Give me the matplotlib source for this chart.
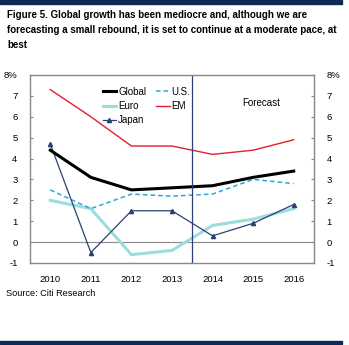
import matplotlib
matplotlib.use("Agg")
import matplotlib.pyplot as plt

years = [2010, 2011, 2012, 2013, 2014, 2015, 2016]
glob = [4.4, 3.1, 2.5, 2.6, 2.7, 3.1, 3.4]
us = [2.5, 1.6, 2.3, 2.2, 2.3, 3.0, 2.8]
euro = [2.0, 1.6, -0.6, -0.4, 0.8, 1.1, 1.6]
em = [7.3, 6.0, 4.6, 4.6, 4.2, 4.4, 4.9]
japan = [4.7, -0.5, 1.5, 1.5, 0.3, 0.9, 1.8]
yticks = [-1, 0, 1, 2, 3, 4, 5, 6, 7, 8]
ylabels = ["-1", "0", "1", "2", "3", "4", "5", "6", "7", "8%"]
forecast_start = 2013.5

plt.rcParams.update({"font.family": ["Liberation Sans", "DejaVu Sans"], "font.size": 6.8})
W, H = 349, 345
fig = plt.figure(figsize=(W / 100, H / 100), dpi=100)

# dark bars top / bottom
fig.patches.append(plt.Rectangle((0, 1 - 4 / H), 342 / W, 4 / H, transform=fig.transFigure,
                                 color="#0c2a55", zorder=0))
fig.patches.append(plt.Rectangle((0, 1 / H), 342 / W, 3 / H, transform=fig.transFigure,
                                 color="#0c2a55", zorder=0))

fig.text(7 / W, 1 - 10 / H,
         "Figure 5. Global growth has been mediocre and, although we are\n"
         "forecasting a small rebound, it is set to continue at a moderate pace, at\n"
         "best", ha="left", va="top", fontsize=7.0, fontweight="bold", linespacing=1.65)

ax = fig.add_axes([30 / W, 1 - 263 / H, 284 / W, 188 / H])
ax.plot(years, em, color="#e2202c", lw=1.0, label="EM")
ax.plot(years, euro, color="#9adedd", lw=2.2, label="Euro")
ax.plot(years, us, color="#2ea6dc", lw=1.1, ls=(0, (3, 2)), label="U.S.")
ax.plot(years, japan, color="#2b4172", lw=0.9, marker="^", ms=3, label="Japan")
ax.plot(years, glob, color="black", lw=2.2, label="Global")
ax.axhline(0, color="#888888", lw=0.8, zorder=0)
ax.axvline(forecast_start, color="#2b4172", lw=0.9)
ax.text(2015.2, 6.65, "Forecast", ha="center", va="center", fontsize=7)

ax.set_xlim(2009.5, 2016.5)
ax.set_ylim(-1, 8)
ax.set_xticks(years)
ax.set_yticks(yticks)
ax.set_yticklabels(ylabels)
ax.tick_params(axis="x", length=0, pad=9)
ax.tick_params(axis="y", direction="in", length=2, color="#888888", pad=9,
               right=True, labelright=True)
for s in ax.spines.values():
    s.set_color("#888888")
    s.set_linewidth(1.0)

h, l = ax.get_legend_handles_labels()
order = ["Global", "Euro", "Japan", "U.S.", "EM"]
hs = [h[l.index(k)] for k in order]
ax.legend(hs, order, ncol=2, loc="upper left", bbox_to_anchor=(0.225, 0.985), frameon=False,
          handlelength=1.4, handletextpad=0.2, columnspacing=1.0, labelspacing=0.45,
          fontsize=7)

fig.text(6 / W, 1 - 294 / H, "Source: Citi Research", ha="left", va="center", fontsize=6.6)

fig.savefig("out.png", dpi=100)
